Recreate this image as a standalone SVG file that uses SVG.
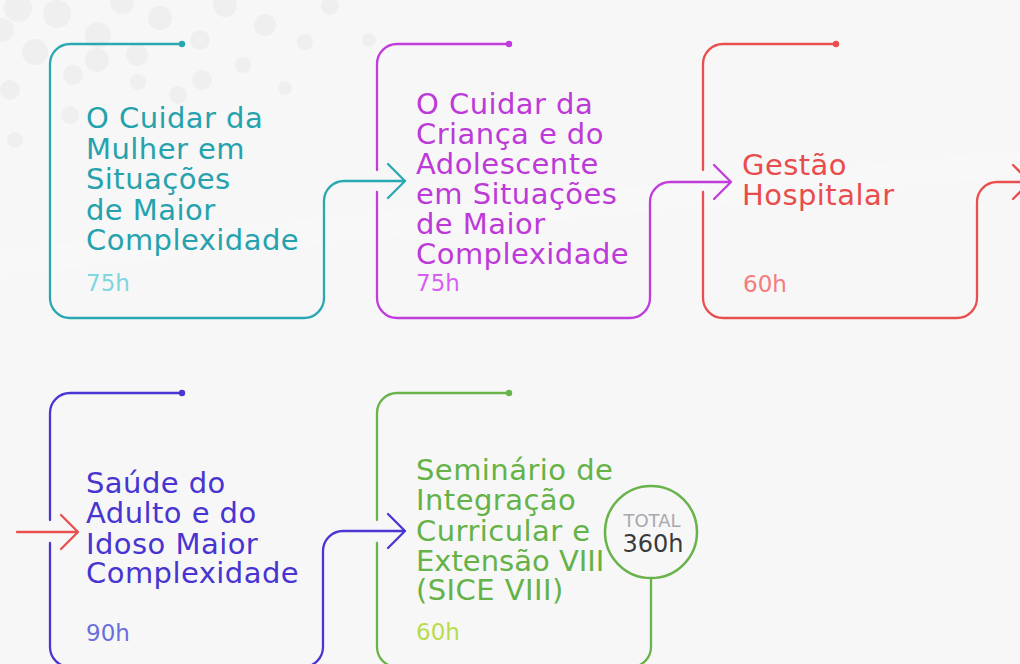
<svg xmlns="http://www.w3.org/2000/svg" width="1020" height="664" viewBox="0 0 1020 664">
<style>
.t{font-family:"DejaVu Sans","Liberation Sans",sans-serif;font-size:29px;letter-spacing:0.45px}
.h{font-family:"DejaVu Sans","Liberation Sans",sans-serif;font-size:23px}
.f{fill:none;stroke-width:2.3;stroke-linecap:round;stroke-linejoin:round}
.teal{stroke:#2aa8b2}.purp{stroke:#c03cdc}.red{stroke:#ea4f4f}.blue{stroke:#4a36d2}.green{stroke:#68b44a}
</style>
<rect width="1020" height="664" fill="#f7f7f7"/>
<polygon points="0,250 1020,150 1020,175 0,275" fill="#ffffff" opacity="0.2"/>
<g fill="#efefef">
<circle cx="18" cy="8" r="14"/><circle cx="57" cy="14" r="14"/><circle cx="122" cy="2" r="12"/>
<circle cx="225" cy="5" r="12"/><circle cx="160" cy="18" r="12"/><circle cx="98" cy="35" r="13"/>
<circle cx="2" cy="30" r="12"/><circle cx="35" cy="52" r="13"/><circle cx="97" cy="60" r="12"/>
<circle cx="200" cy="40" r="10"/><circle cx="265" cy="25" r="11"/><circle cx="330" cy="6" r="9"/>
<circle cx="10" cy="90" r="10"/><circle cx="73" cy="75" r="10"/><circle cx="137" cy="55" r="11"/>
<circle cx="243" cy="65" r="8"/><circle cx="305" cy="42" r="8"/><circle cx="70" cy="115" r="9"/>
<circle cx="138" cy="82" r="8"/><circle cx="178" cy="95" r="9"/><circle cx="202" cy="80" r="10"/>
<circle cx="285" cy="88" r="7"/><circle cx="369" cy="40" r="7"/>
<circle cx="15" cy="140" r="8"/>
</g>

<g id="connectors" class="f">
<path class="teal" d="M324,208 V201 A20,20 0 0 1 344,181 H405 M388,164 L405,181 L388,198"/>
<path class="purp" d="M650,208 V202 A20,20 0 0 1 670,182 H731 M714,165 L731,182 L714,199"/>
<path class="red" d="M977,208 V202 A20,20 0 0 1 997,182 H1030 M1013,165 L1030,182 L1013,199"/>
<path class="red" d="M17,532 H78 M61,515 L78,532 L61,549"/>
<path class="blue" d="M323,558 V551 A20,20 0 0 1 343,531 H405 M388,514 L405,531 L388,548"/>
</g>

<g id="node1">
<path class="f teal" d="M182,44 H70 A20,20 0 0 0 50,64 V298 A20,20 0 0 0 70,318 H304 A20,20 0 0 0 324,298 V208"/>
<circle cx="182" cy="44" r="3.2" fill="#2aa8b2"/>
<text class="t" fill="#25a2ad"><tspan x="86" y="128">O Cuidar da</tspan><tspan x="86" y="158.5">Mulher em</tspan><tspan x="86" y="189">Situações</tspan><tspan x="86" y="219.5">de Maior</tspan><tspan x="86" y="250">Complexidade</tspan></text>
<text class="h" x="86" y="291" fill="#7ed6df">75h</text>
</g>

<g id="node2">
<path class="f purp" d="M509,44 H397 A20,20 0 0 0 377,64 V170 M377,192 V298 A20,20 0 0 0 397,318 H630 A20,20 0 0 0 650,298 V208"/>
<circle cx="509" cy="44" r="3.2" fill="#c03cdc"/>
<text class="t" fill="#bd3ad9"><tspan x="416" y="114">O Cuidar da</tspan><tspan x="416" y="144">Criança e do</tspan><tspan x="416" y="174">Adolescente</tspan><tspan x="416" y="204">em Situações</tspan><tspan x="416" y="234">de Maior</tspan><tspan x="416" y="264">Complexidade</tspan></text>
<text class="h" x="416" y="291" fill="#d75ff2">75h</text>
</g>

<g id="node3">
<path class="f red" d="M836,44 H723 A20,20 0 0 0 703,64 V170 M703,192 V298 A20,20 0 0 0 723,318 H957 A20,20 0 0 0 977,298 V208"/>
<circle cx="836" cy="44" r="3.2" fill="#ea4f4f"/>
<text class="t" fill="#e94c4c"><tspan x="742" y="175">Gestão</tspan><tspan x="742" y="205">Hospitalar</tspan></text>
<text class="h" x="743" y="292" fill="#f47c7c">60h</text>
</g>

<g id="node4">
<path class="f blue" d="M182,393 H70 A20,20 0 0 0 50,413 V520 M50,543 V647 A20,20 0 0 0 70,667 H303 A20,20 0 0 0 323,647 V558"/>
<circle cx="182" cy="393" r="3.2" fill="#4a36d2"/>
<text class="t" fill="#4834d0"><tspan x="86" y="493">Saúde do</tspan><tspan x="86" y="523">Adulto e do</tspan><tspan x="86" y="554">Idoso Maior</tspan><tspan x="86" y="583">Complexidade</tspan></text>
<text class="h" x="86" y="641" fill="#6a6edc">90h</text>
</g>

<g id="node5">
<path class="f green" d="M509,393 H397 A20,20 0 0 0 377,413 V520 M377,543 V647 A20,20 0 0 0 397,667 H631 A20,20 0 0 0 651,647 V578"/>
<circle cx="509" cy="393" r="3.2" fill="#68b44a"/>
<text class="t" fill="#65b247"><tspan x="416" y="480">Seminário de</tspan><tspan x="416" y="510">Integração</tspan><tspan x="416" y="541">Curricular e</tspan><tspan x="416" y="571" style="letter-spacing:0">Extensão VIII</tspan><tspan x="416" y="600">(SICE VIII)</tspan></text>
<text class="h" x="416" y="640" fill="#b7dc4c">60h</text>
</g>

<g id="total">
<circle cx="651" cy="532" r="46" fill="#f7f7f7" stroke="#68b44a" stroke-width="2.5"/>
<text x="652" y="527" text-anchor="middle" font-family="DejaVu Sans, Liberation Sans, sans-serif" font-size="18" fill="#a8a8ae">TOTAL</text>
<text x="653" y="552" text-anchor="middle" font-family="DejaVu Sans, Liberation Sans, sans-serif" font-size="24" fill="#3a3a3a">360h</text>
</g>
</svg>
